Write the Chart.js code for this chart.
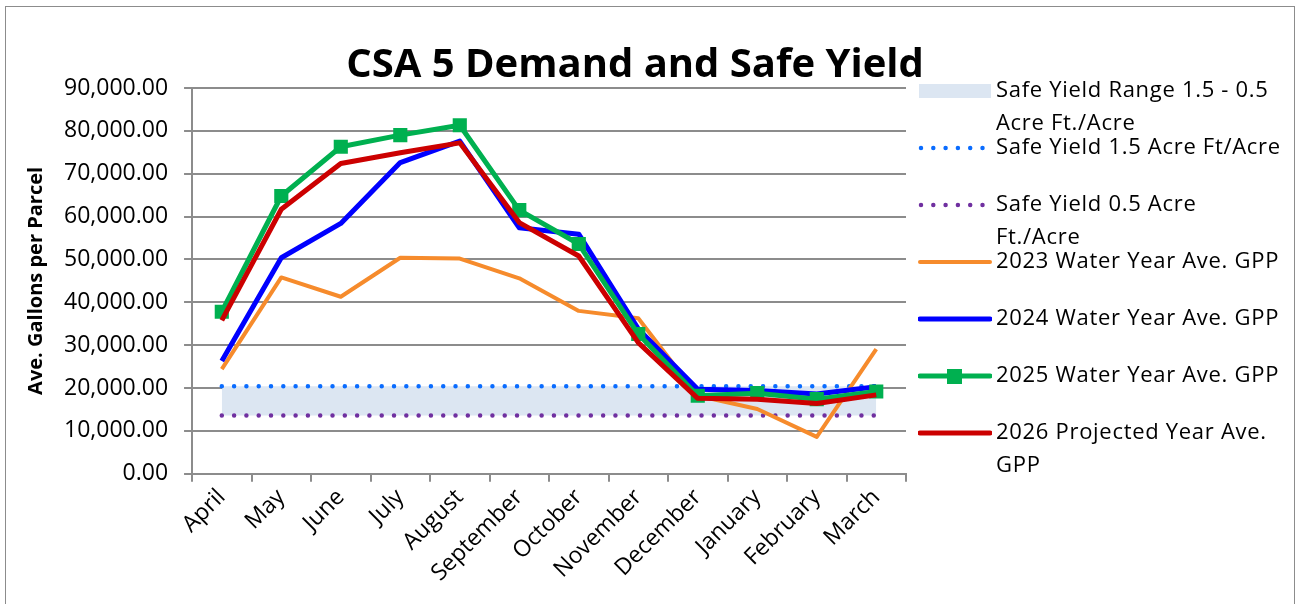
<!DOCTYPE html>
<html>
<head>
<meta charset="utf-8">
<script src="https://cdn.jsdelivr.net/npm/chart.js@4/dist/chart.umd.min.js"></script>
<style>
  html, body { margin: 0; padding: 0; background: #fff; }
  body { width: 1299px; height: 604px; position: relative; overflow: hidden; font-family: 'Open Sans', sans-serif; }
  #frame { position: absolute; left: 5px; top: 6px; width: 1290px; height: 600px; border: 1px solid #8c8c8c; box-sizing: border-box; }
  #chart-wrap { position: absolute; left: 0; top: 0; width: 1299px; height: 604px; }
  #title { position: absolute; left: 300px; width: 670px; top: 36px; text-align: center; font-weight: bold; font-size: 40px; line-height: 52px; color: #000; }
  #legend { position: absolute; left: 918px; top: 72px; width: 380px; }
  .item { position: relative; height: 57px; }
  .item svg { position: absolute; left: 0; top: 7px; }
  .item span { position: absolute; left: 78px; top: 0; font-size: 22px; letter-spacing: 0.7px; line-height: 33px; color: #000; white-space: nowrap; }
</style>
</head>
<body>
<div id="frame"></div>
<div id="chart-wrap"><canvas id="chart" width="1299" height="604"></canvas></div>
<div id="title">CSA 5 Demand and Safe Yield</div>
<div id="legend"></div>
<script>
// Data
const months = ['April', 'May', 'June', 'July', 'August', 'September', 'October', 'November', 'December', 'January', 'February', 'March'];
const safeYield15 = [20400, 20400, 20400, 20400, 20400, 20400, 20400, 20400, 20400, 20400, 20400, 20400];
const safeYield05 = [13600, 13600, 13600, 13600, 13600, 13600, 13600, 13600, 13600, 13600, 13600, 13600];
const gpp2023 = [24400, 45800, 41300, 50400, 50200, 45600, 38000, 36300, 18200, 15100, 8600, 29100];
const gpp2024 = [26300, 50400, 58400, 72600, 77600, 57400, 55900, 33800, 19700, 19400, 18600, 20300];
const gpp2025 = [37800, 64800, 76300, 79000, 81300, 61500, 53600, 32600, 18200, 18800, 17400, 19200];
const gpp2026 = [35800, 61700, 72400, 74900, 77200, 58600, 50800, 30600, 17600, 17400, 16400, 18400];
const yTicks = [0, 10000, 20000, 30000, 40000, 50000, 60000, 70000, 80000, 90000];

const FONT = "'Open Sans', sans-serif";
const gridColor = '#8c8c8c';

const datasets = [
  {
    label: 'Safe Yield Range 1.5 - 0.5|Acre Ft./Acre',
    kind: 'range',
    data: safeYield15,
    borderWidth: 0,
    pointRadius: 0,
    backgroundColor: '#dce6f2',
    fill: { target: 2 },
    order: 10
  },
  {
    label: 'Safe Yield 1.5 Acre Ft/Acre',
    kind: 'dots',
    data: safeYield15,
    borderColor: '#0a6cff',
    borderWidth: 4.5,
    borderDash: [0.001, 12.3],
    borderCapStyle: 'round',
    pointRadius: 0,
    fill: false,
    order: 9
  },
  {
    label: 'Safe Yield 0.5 Acre|Ft./Acre',
    kind: 'dots',
    data: safeYield05,
    borderColor: '#7030a0',
    borderWidth: 4.5,
    borderDash: [0.001, 12.3],
    borderCapStyle: 'round',
    pointRadius: 0,
    fill: false,
    order: 8
  },
  {
    label: '2023 Water Year Ave. GPP',
    kind: 'line',
    data: gpp2023,
    borderColor: '#f68b2c',
    borderWidth: 4,
    pointRadius: 0,
    fill: false,
    order: 7
  },
  {
    label: '2024 Water Year Ave. GPP',
    kind: 'line',
    data: gpp2024,
    borderColor: '#0000ff',
    borderWidth: 5,
    pointRadius: 0,
    fill: false,
    order: 6
  },
  {
    label: '2025 Water Year Ave. GPP',
    kind: 'marker',
    data: gpp2025,
    borderColor: '#00b050',
    backgroundColor: '#00b050',
    borderWidth: 5,
    pointStyle: 'rect',
    pointRadius: 10,
    pointBorderWidth: 0,
    fill: false,
    order: 5
  },
  {
    label: '2026 Projected Year Ave.|GPP',
    kind: 'line',
    data: gpp2026,
    borderColor: '#cc0000',
    borderWidth: 5,
    pointRadius: 0,
    fill: false,
    order: 4
  }
];

const ctx = document.getElementById('chart').getContext('2d');
const chart = new Chart(ctx, {
  type: 'line',
  data: { labels: months, datasets: datasets },
  options: {
    responsive: false,
    animation: false,
    elements: { line: { tension: 0, borderJoinStyle: 'round' } },
    layout: { padding: { left: 24, right: 393, top: 88, bottom: 15 } },
    plugins: {
      legend: { display: false },
      tooltip: { enabled: false },
      filler: { drawTime: 'beforeDatasetsDraw' }
    },
    scales: {
      x: {
        offset: true,
        grid: { offset: true, drawOnChartArea: false, color: gridColor, lineWidth: 2, tickLength: 8 },
        border: { color: gridColor, width: 2 },
        ticks: {
          color: '#000',
          font: { family: FONT, size: 23 },
          maxRotation: 45,
          minRotation: 45,
          autoSkip: false,
          padding: 2
        }
      },
      y: {
        min: 0,
        max: 90000,
        afterBuildTicks: axis => { axis.ticks = yTicks.map(v => ({ value: v })); },
        grid: { color: gridColor, lineWidth: 2, tickLength: 8 },
        border: { color: gridColor, width: 2 },
        ticks: {
          color: '#000',
          font: { family: FONT, size: 23 },
          padding: 16,
          callback: v => v.toLocaleString('en-US', { minimumFractionDigits: 2, maximumFractionDigits: 2 })
        },
        title: {
          display: true,
          text: 'Ave. Gallons per Parcel',
          color: '#000',
          font: { family: FONT, size: 20, weight: 'bold' },
          padding: { top: 0, bottom: 0 }
        }
      }
    }
  }
});

// HTML legend built from the datasets
const legendEl = document.getElementById('legend');
chart.data.datasets.forEach(ds => {
  const item = document.createElement('div');
  item.className = 'item';
  let svg = '';
  if (ds.kind === 'range') {
    svg = `<svg width="74" height="20"><rect x="1" y="5" width="72" height="14" fill="${ds.backgroundColor}"/></svg>`;
  } else if (ds.kind === 'dots') {
    svg = `<svg width="74" height="20"><line x1="3" y1="12" x2="72" y2="12" stroke="${ds.borderColor}" stroke-width="4.5" stroke-linecap="round" stroke-dasharray="0 12.3"/></svg>`;
  } else {
    svg = `<svg width="74" height="20"><line x1="2" y1="12" x2="72" y2="12" stroke="${ds.borderColor}" stroke-width="${ds.borderWidth}" stroke-linecap="round"/>` +
      (ds.kind === 'marker' ? `<rect x="29" y="5" width="15" height="15" fill="${ds.borderColor}"/>` : '') + '</svg>';
  }
  item.innerHTML = svg + `<span>${ds.label.split('|').join('<br>')}</span>`;
  legendEl.appendChild(item);
});
</script>
</body>
</html>
